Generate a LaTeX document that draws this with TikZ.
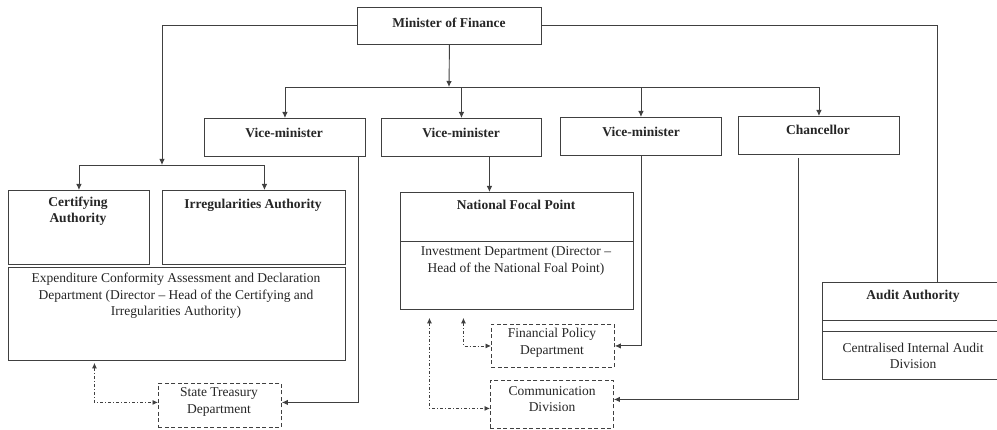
\documentclass[tikz,border=0pt]{standalone}
\usepackage{fontspec}
\setmainfont{Liberation Serif}
\usetikzlibrary{arrows.meta}
\newcommand{\chartsize}{\fontsize{13.5}{16.5}\selectfont}
\tikzset{
    box/.style={draw=black!75, line width=0.9pt, anchor=north west, inner sep=0},
    dbox/.style={box, dash pattern=on 4pt off 2.5pt},
    ttl/.style={font=\chartsize\bfseries, align=center, text=black!85},
    txt/.style={font=\chartsize, align=center, text=black!85},
    line/.style={draw=black!75, line width=0.9pt},
    arr/.style={line, -{Latex[length=6pt,width=5.5pt]}},
    link/.style={draw=black!75, line width=0.8pt, dash pattern=on 3pt off 2pt on 1pt off 2pt,
        {Latex[length=5.5pt,width=5pt]}-{Latex[length=5.5pt,width=5pt]}}
}

\begin{document}
\begin{tikzpicture}[x=1pt, y=-1pt]
    \useasboundingbox[fill=white] (0,0) rectangle (997,430);

    % boxes
    \node[box, minimum width=184, minimum height=37] (mof) at (357,7) {};
    \node[box, minimum width=161, minimum height=38] (vm1) at (204,118) {};
    \node[box, minimum width=160, minimum height=38] (vm2) at (381,118) {};
    \node[box, minimum width=161, minimum height=38] (vm3) at (560,117) {};
    \node[box, minimum width=161, minimum height=38] (ch) at (738,116) {};
    \node[box, minimum width=141, minimum height=74] (ca) at (8,190) {};
    \node[box, minimum width=183, minimum height=74] (ia) at (162,190) {};
    \node[box, minimum width=337, minimum height=93] (exp) at (8,267) {};
    \node[box, minimum width=233, minimum height=117] (nfp) at (400,192) {};
    \node[box, minimum width=182, minimum height=97] (aa) at (822,282) {};
    \node[dbox, minimum width=123, minimum height=44] (st) at (158,383) {};
    \node[dbox, minimum width=123, minimum height=43] (fpd) at (491,324) {};
    \node[dbox, minimum width=123, minimum height=48] (cd) at (490,380) {};

    \draw[line] ([yshift=-49pt]nfp.north west) -- ([yshift=-49pt]nfp.north east);
    \draw[line] ([yshift=-38pt]aa.north west) -- ([yshift=-38pt]aa.north east);
    \draw[line] ([yshift=-49pt]aa.north west) -- ([yshift=-49pt]aa.north east);

    % texts
    \node[ttl] (tmof) at (449,23) {Minister of Finance};
    \node[ttl] (tvm1) at (284,133) {Vice-minister};
    \node[ttl] (tvm2) at (461,133) {Vice-minister};
    \node[ttl] (tvm3) at (641,132) {Vice-minister};
    \node[ttl] (tch) at (818,130) {Chancellor};
    \node[ttl] (tca) at (78,211) {Certifying\\Authority};
    \node[ttl] (tia) at (253,205) {Irregularities Authority};
    \node[txt] (texp) at (176,296) {Expenditure Conformity Assessment and Declaration\\Department (Director -- Head of the Certifying and\\Irregularities Authority)};
    \node[ttl] (tnfp) at (516,205) {National Focal Point};
    \node[txt] (tinv) at (516,261) {Investment Department (Director --\\Head of the National Foal Point)};
    \node[ttl] (taa) at (913,296) {Audit Authority};
    \node[txt] (tcia) at (913,356) {Centralised Internal Audit\\Division};
    \node[txt] (tst) at (219,402) {State Treasury\\Department};
    \node[txt] (tfpd) at (552,343) {Financial Policy\\Department};
    \node[txt] (tcd) at (552,399) {Communication\\Division};

    % connectors
    \coordinate (jl) at (162,165);
    \coordinate (jm) at (449,87);
    \draw[arr] (mof.west) -| (jl);
    \draw[arr] (jl) -| (ca.north);
    \draw[arr] (jl) -| ([xshift=10.5pt]ia.north);
    \draw[line] (mof.east) -| ([xshift=24pt]aa.north);
    \draw[arr] (mof.south) -- (jm);
    \draw[arr] (jm) -| (vm1.north);
    \draw[arr] (jm) -| (vm2.north);
    \draw[arr] (jm) -| (vm3.north);
    \draw[arr] (jm) -| (ch.north);
    \draw[arr] ([xshift=-27.5pt]nfp.north |- vm2.south) -- ([xshift=-27.5pt]nfp.north);
    \draw[arr] ([xshift=-7pt]vm1.south east) |- ([yshift=3pt]st.east);
    \draw[arr] (vm3.south) |- (fpd.east);
    \draw[arr] ([xshift=-20.5pt,yshift=-3pt]ch.south) |- ([yshift=5pt]cd.east);
    \draw[link] ([xshift=-82.5pt,yshift=-2pt]exp.south) |- ([yshift=3pt]st.west);
    \draw[link] ([xshift=-53.5pt,yshift=-8pt]nfp.south) |- (fpd.west);
    \draw[link] ([xshift=-87.5pt,yshift=-8pt]nfp.south) |- ([yshift=-4pt]cd.west);
\end{tikzpicture}
\end{document}
